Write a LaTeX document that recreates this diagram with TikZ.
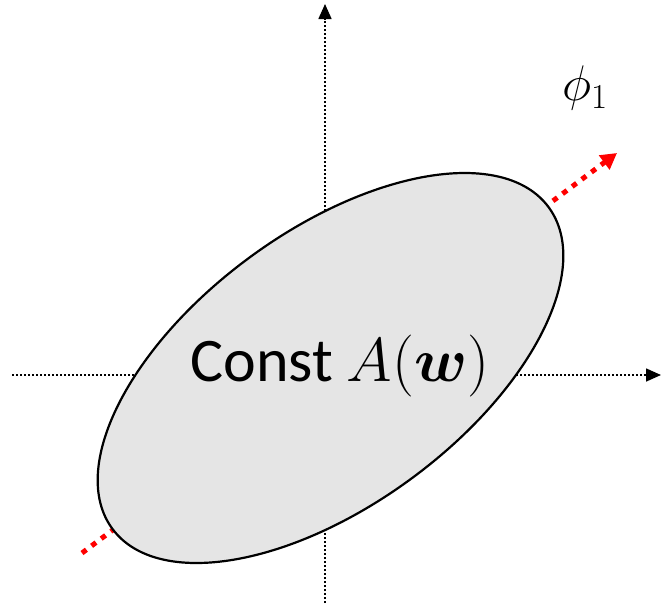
\RequirePackage{fix-cm}
\documentclass[tikz,border=0pt]{standalone}
\usepackage{amsmath,amssymb}
\usepackage{fontspec}
\setmainfont{Carlito}
\usepackage{tikz}
\usetikzlibrary{arrows.meta,positioning,shapes.geometric}
\definecolor{blobgray}{RGB}{229,229,229}
\tikzset{
  axis/.style={line width=1.6pt, dash pattern=on 1.8pt off 2.2pt, -{Triangle[length=15pt,width=13pt]}},
  pcaxis/.style={line width=5pt, red, dash pattern=on 5.5pt off 6.5pt, -{Triangle[length=16pt,width=17pt]}},
  blob/.style={ellipse, draw, line width=2.2pt, fill=blobgray, inner sep=0pt},
  lbl/.style={inner sep=0pt},
}

\begin{document}
\begin{tikzpicture}[x=1pt,y=1pt]
  \useasboundingbox (0,0) rectangle (661,-603);
  % axes
  \coordinate (xs) at (12,-375);
  \coordinate (xe) at (661,-375);
  \coordinate (ys) at (325,-603);
  \coordinate (ye) at (325,-4);
  \draw[axis] (xs) -- (xe);
  \draw[axis] (ys) -- (ye);

  % principal direction
  \coordinate (ps) at (82,-553);
  \coordinate (pe) at (617,-153);
  \draw[pcaxis] (ps) -- (pe);

  % level set
  \node[blob, minimum width=542pt, minimum height=274pt, rotate=36.4] (lvl) at (330.5,-368) {};
  \node[lbl, anchor=base] (const) at (340,-381) {\fontsize{62}{70}\selectfont Const $A(\boldsymbol{w})$};

  % label of direction
  \node[lbl] (phi) at (585,-88) {\fontsize{50}{56}\selectfont $\phi_1$};
\end{tikzpicture}
\end{document}
